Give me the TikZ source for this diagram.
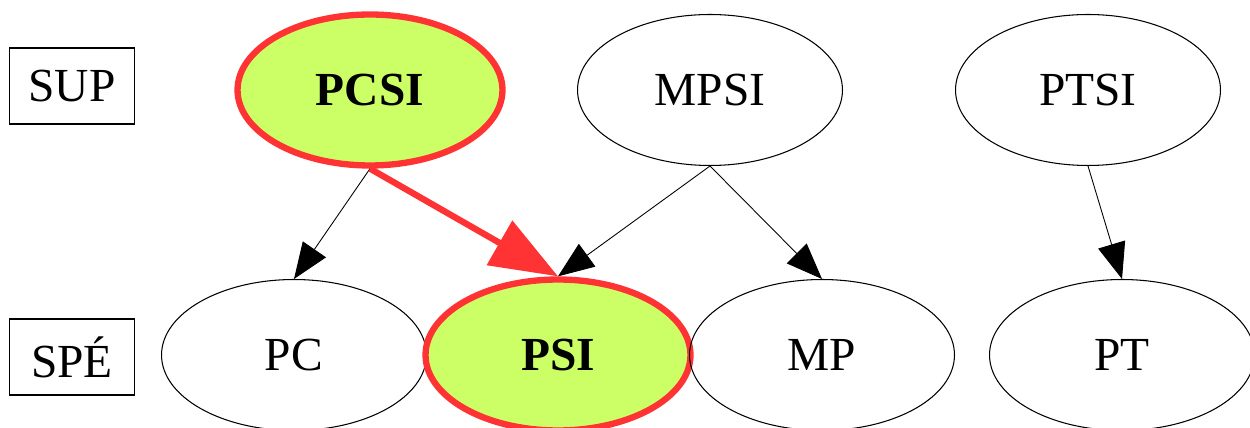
\documentclass[tikz,border=0pt]{standalone}
\usepackage{fontspec}
\setmainfont{Liberation Serif}
\usetikzlibrary{shapes.geometric,arrows.meta}
\definecolor{selfill}{HTML}{CCFF66}
\definecolor{selred}{HTML}{FF3333}
\begin{document}
\begin{tikzpicture}[x=0.02cm, y=-0.02cm, font=\fontsize{27}{30}\selectfont]
  \tikzset{prepa/.style={draw, ellipse, line width=0.6pt, minimum width=5.3cm, minimum height=3.02cm, inner sep=0pt},
    chosen/.style={prepa, fill=selfill, draw=selred, line width=3.6pt, font=\fontsize{27}{30}\selectfont\bfseries},
    level/.style={draw, line width=0.6pt, minimum width=2.5cm, minimum height=1.52cm},
    link/.style={-{Triangle[length=0.72cm, width=0.56cm]}, line width=0.5pt},
    bestlink/.style={-{Triangle[length=1.35cm, width=1.0cm]}, draw=selred, line width=3.6pt}}
  \useasboundingbox (0,0) rectangle (1250,428);
  \node[level] (sup) at (72,86) {SUP};
  \node[level] (spe) at (72,357) {SPÉ};
  \node[chosen] (pcsi) at (370,90) {PCSI};
  \node[prepa] (mpsi) at (710,90) {MPSI};
  \node[prepa] (ptsi) at (1088,90) {PTSI};
  \node[prepa] (pc) at (294,355) {PC};
  \node[chosen] (psi) at (558,355) {PSI};
  \node[prepa] (mp) at (822,355) {MP};
  \node[prepa] (pt) at (1122,355) {PT};
  \draw[link] (pcsi.south) -- (pc.north);
  \draw[bestlink] (pcsi.south) -- (psi.north);
  \draw[link] (mpsi.south) -- (psi.north);
  \draw[link] (mpsi.south) -- (mp.north);
  \draw[link] (ptsi.south) -- (pt.north);
\end{tikzpicture}
\end{document}
